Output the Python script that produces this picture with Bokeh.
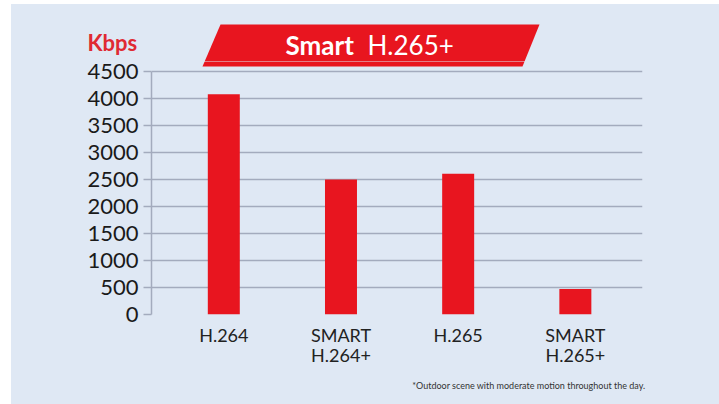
from bokeh.plotting import figure
from bokeh.models import Range1d, FixedTicker, Title
from bokeh.layouts import column
from bokeh.core.properties import value
from bokeh.embed import file_html
from bokeh.resources import INLINE

# ---- data ----
categories = ["H.264", "SMART\nH.264+", "H.265", "SMART\nH.265+"]
bitrate_kbps = [4070, 2495, 2600, 470]
y_ticks = [0, 500, 1000, 1500, 2000, 2500, 3000, 3500, 4000, 4500]

BG = "#dfe8f4"
RED = "#e8151f"
GRID = "#a3abbd"
FONT = "Lato"

# layout (page pixels)
LEFT, TOP, W, H = 11, 4, 719, 404
SPLIT = 61                                # boundary between header strip and chart
FL, FR, FB = 151, 642, 314               # chart frame edges
PX_4500 = 70.5                           # pixel of the 4500 gridline
X0, X1 = -0.617, 3.573
Y_TOP = (FB - SPLIT) / (FB - PX_4500) * 4500

banner_px = [220, 539, 522, 202]
banner_py = [24, 24, 66, 66]


def dx(px):
    return X0 + (px - FL) / (FR - FL) * (X1 - X0)


def dy(py):
    return (FB - py) / (FB - SPLIT) * Y_TOP


# ---- header strip (banner + unit) ----
hdr = figure(width=W - LEFT, height=SPLIT - TOP, output_backend="svg", toolbar_location=None,
             x_range=Range1d(LEFT, W), y_range=Range1d(SPLIT, TOP),
             x_axis_type=None, y_axis_type=None, frame_align=False,
             min_border=0, min_border_left=0, min_border_right=0,
             min_border_top=0, min_border_bottom=0)
hdr.background_fill_color = BG
hdr.border_fill_color = BG
hdr.outline_line_color = None
hdr.grid.grid_line_color = None
hdr.patch(x=banner_px, y=banner_py, fill_color=RED, line_color=None)
hdr.text(x=[285], y=[44], text=["Smart"], text_font=value(FONT), text_font_style="bold",
         text_font_size="26px", text_color="white", text_baseline="alphabetic")
hdr.text(x=[367], y=[44], text=["H.265+"], text_font=value(FONT),
         text_font_size="26px", text_color="white", text_baseline="alphabetic")
hdr.text(x=[87], y=[41.5], text=["Kbps"], text_font=value(FONT), text_font_style="bold",
         text_font_size="22px", text_color="#e02a33", text_baseline="alphabetic")

# ---- chart ----
xs = list(range(len(categories)))

p = figure(width=W - LEFT, height=H - SPLIT, output_backend="svg", toolbar_location=None,
           x_range=Range1d(X0, X1), y_range=Range1d(0, Y_TOP), frame_align=False,
           min_border_left=FL - LEFT, min_border_right=W - FR, min_border_top=0,
           min_border_bottom=H - FB)
p.background_fill_color = BG
p.border_fill_color = BG
p.outline_line_color = None

# lower part of the banner continues into this canvas
p.patch(x=[dx(v) for v in banner_px], y=[dy(v) for v in banner_py],
        fill_color=RED, line_color=None)

p.vbar(x=xs, top=bitrate_kbps, width=0.273, bottom=0, fill_color=RED, line_color=None)

# y axis
p.yaxis.ticker = FixedTicker(ticks=y_ticks)
p.yaxis.bounds = (0, 4500)
p.yaxis.axis_line_color = GRID
p.yaxis.axis_line_width = 1.5
p.yaxis.major_tick_line_color = GRID
p.yaxis.major_tick_line_width = 1.5
p.yaxis.major_tick_out = 8
p.yaxis.major_tick_in = 0
p.yaxis.minor_tick_line_color = None
p.yaxis.major_label_text_font = FONT
p.yaxis.major_label_text_font_size = "22px"
p.yaxis.major_label_text_color = "#1a1a1a"
p.yaxis.major_label_standoff = 5

# x axis
p.xaxis.ticker = FixedTicker(ticks=xs)
p.xaxis.major_label_overrides = {i: c for i, c in zip(xs, categories)}
p.xaxis.axis_line_color = None
p.xaxis.major_tick_line_color = None
p.xaxis.minor_tick_line_color = None
p.xaxis.major_label_text_font = FONT
p.xaxis.major_label_text_font_size = "18px"
p.xaxis.major_label_text_color = "#222222"
p.xaxis.major_label_text_line_height = 0.95
p.xaxis.major_label_standoff = 3

p.xgrid.grid_line_color = None
p.ygrid.ticker = FixedTicker(ticks=y_ticks)
p.ygrid.grid_line_color = GRID
p.ygrid.grid_line_width = 1.5

note = Title(text="*Outdoor scene with moderate motion throughout the day.",
             align="right", offset=-3, standoff=17, text_font=FONT,
             text_font_size="9px", text_font_style="normal", text_color="#333333")
p.add_layout(note, "below")

layout = column(hdr, p, spacing=0)
layout.styles = {"margin-left": f"{LEFT}px", "margin-top": f"{TOP}px",
                 "background-color": BG}

open("out.html", "w").write(file_html(layout, INLINE))
